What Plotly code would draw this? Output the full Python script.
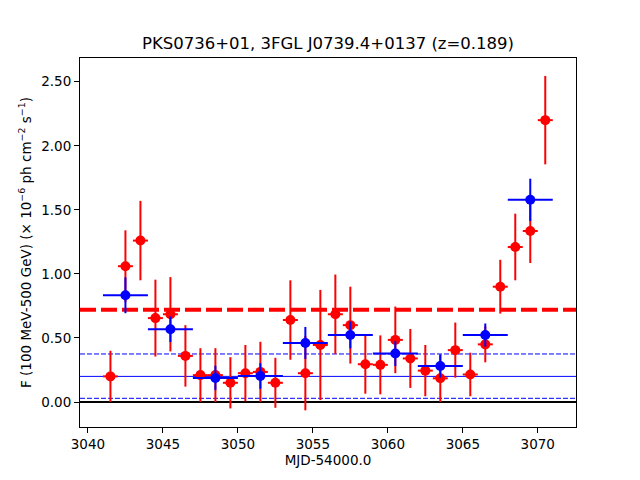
import plotly.graph_objects as go

# daily bins (red)
day_t = [3041.5 + i for i in range(30)]
day_flux = [0.20, 1.06, 1.26, 0.655, 0.685, 0.36, 0.21, 0.21, 0.15, 0.225,
            0.235, 0.15, 0.64, 0.225, 0.445, 0.685, 0.60, 0.295, 0.29, 0.485,
            0.34, 0.245, 0.185, 0.405, 0.215, 0.45, 0.90, 1.21, 1.335, 2.20]
day_err = [0.20, 0.28, 0.31, 0.30, 0.29, 0.24, 0.21, 0.21, 0.20, 0.22,
           0.235, 0.195, 0.31, 0.29, 0.43, 0.31, 0.30, 0.23, 0.23, 0.26,
           0.23, 0.20, 0.185, 0.215, 0.17, 0.14, 0.21, 0.26, 0.25, 0.345]
day_half = 0.5

# 3-day bins (blue)
bin_t = [3042.5, 3045.5, 3048.5, 3051.5, 3054.5, 3057.5, 3060.5, 3063.5, 3066.5, 3069.5]
bin_flux = [0.833, 0.568, 0.188, 0.203, 0.461, 0.523, 0.378, 0.281, 0.523, 1.578]
bin_err = [0.14, 0.10, 0.095, 0.10, 0.125, 0.105, 0.097, 0.09, 0.09, 0.165]
bin_half = 1.5

# reference levels
flare_level = 0.72
mean_level = 0.20
mean_lo, mean_hi = 0.029, 0.375
zero_level = 0.0

fig = go.Figure()

fig.add_trace(go.Scatter(
    x=day_t, y=day_flux, mode='markers',
    marker=dict(color='red', size=10),
    error_x=dict(type='constant', value=day_half, color='red', thickness=2, width=0),
    error_y=dict(type='data', array=day_err, color='red', thickness=2, width=0),
    showlegend=False
))
fig.add_trace(go.Scatter(
    x=bin_t, y=bin_flux, mode='markers',
    marker=dict(color='blue', size=10),
    error_x=dict(type='constant', value=bin_half, color='blue', thickness=2, width=0),
    error_y=dict(type='data', array=bin_err, color='blue', thickness=2, width=0),
    showlegend=False
))

fig.add_hline(y=zero_level, line=dict(color='black', width=2), layer='below')
fig.add_hline(y=mean_level, line=dict(color='blue', width=1), layer='below')
fig.add_hline(y=mean_lo, line=dict(color='blue', width=1, dash='5px,2px'), layer='below')
fig.add_hline(y=mean_hi, line=dict(color='blue', width=1, dash='5px,2px'), layer='below')
fig.add_hline(y=flare_level, line=dict(color='red', width=4, dash='16px,5px'), layer='below')

axis_style = dict(
    showline=True, mirror=True, linecolor='black', linewidth=1,
    ticks='outside', ticklen=5, tickwidth=1, tickcolor='black',
    showgrid=False, zeroline=False,
    tickfont=dict(family='DejaVu Sans', size=13.5, color='black'),
)

fig.update_xaxes(range=[3039.47, 3072.55], tickvals=[3040, 3045, 3050, 3055, 3060, 3065, 3070],
                 title=dict(text='MJD-54000.0', font=dict(family='DejaVu Sans', size=13.5, color='black'),
                            standoff=4),
                 **axis_style)
fig.update_yaxes(range=[-0.195, 2.685], tickvals=[0, 0.5, 1.0, 1.5, 2.0, 2.5], tickformat='.2f',
                 title=dict(text='F (100 MeV-500 GeV) (× 10<sup>−6</sup> ph cm<sup>−2</sup> s<sup>−1</sup>)',
                            font=dict(family='DejaVu Sans', size=13.5, color='black'), standoff=6),
                 **axis_style)

# page has an 8px body margin, so shift the figure up/left by that much
fig.update_layout(
    width=640, height=480,
    margin=dict(l=72, r=72, t=50, b=61),
    paper_bgcolor='white', plot_bgcolor='white',
    title=dict(text='PKS0736+01, 3FGL J0739.4+0137 (z=0.189)', x=0.5, xref='paper',
               y=1 - 35 / 480, yanchor='middle',
               font=dict(family='DejaVu Sans', size=16.5, color='black')),
)

fig.write_html("out.html")
